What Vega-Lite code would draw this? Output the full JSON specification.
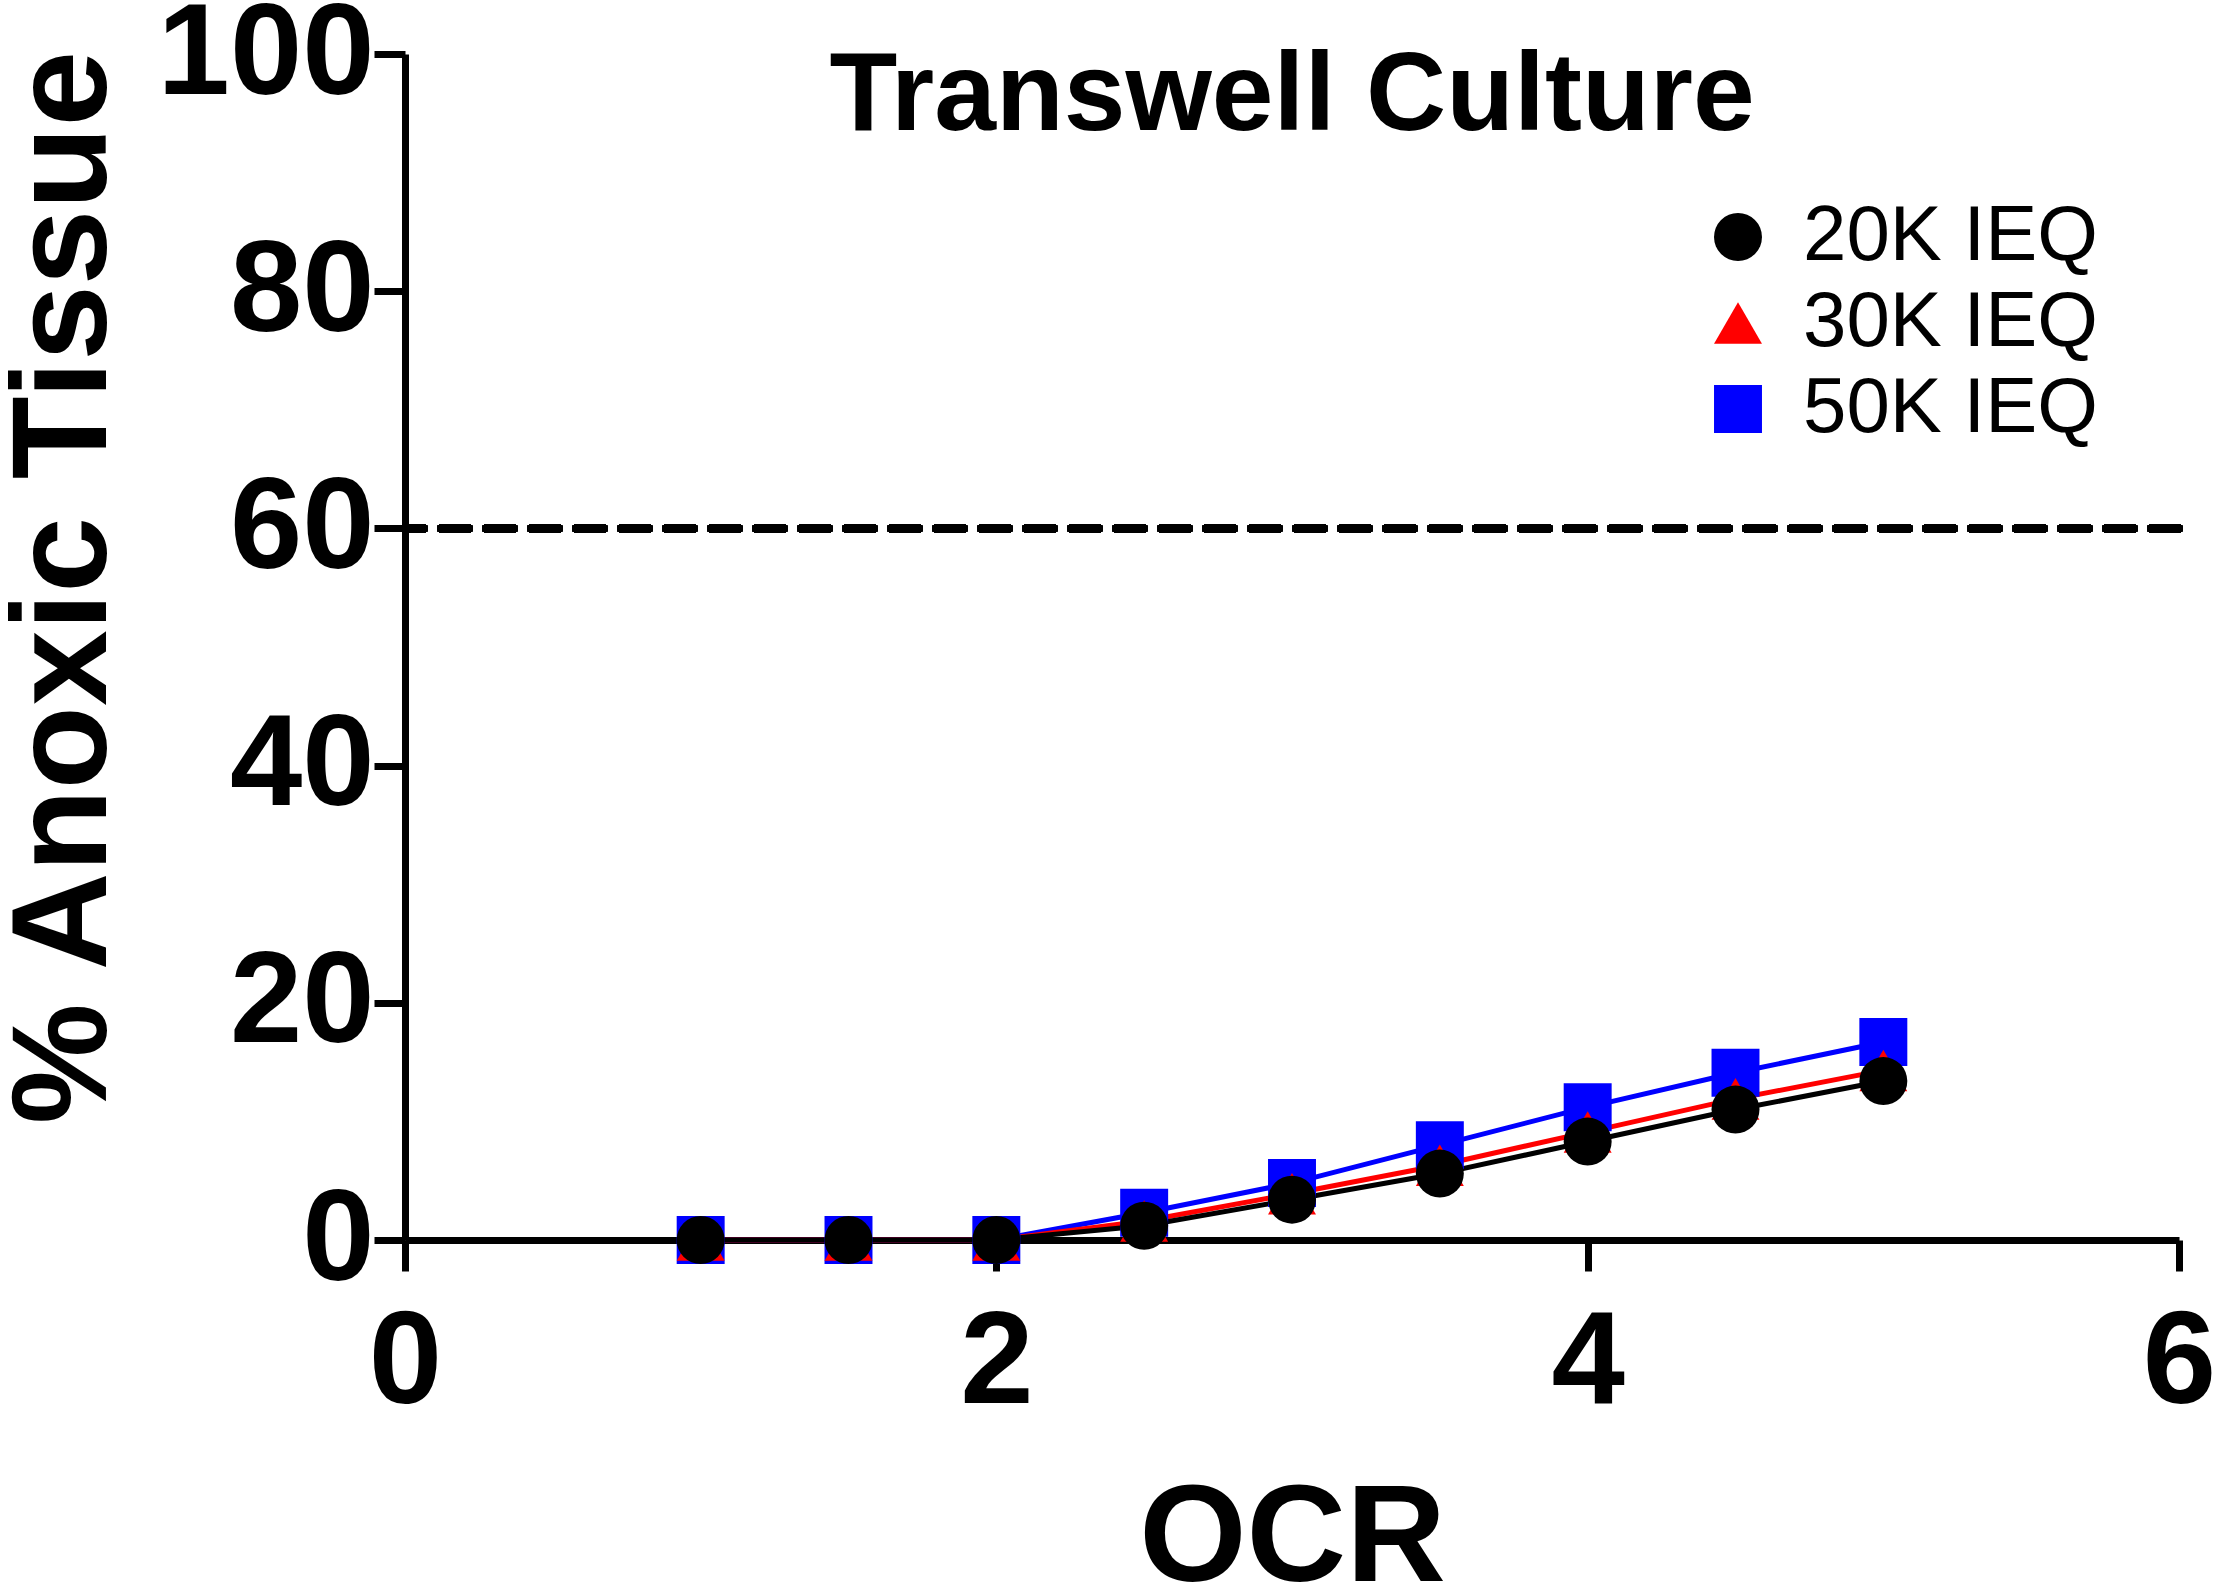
{
  "$schema": "https://vega.github.io/schema/vega-lite/v6.json",
  "autosize": "none",
  "width": 1774,
  "height": 1186,
  "padding": {"left": 405, "top": 54, "right": 38, "bottom": 349},
  "background": "white",
  "title": {
    "text": "Transwell Culture",
    "font": "Liberation Sans",
    "fontSize": 111,
    "fontWeight": "bold",
    "color": "black",
    "anchor": "middle",
    "frame": "group",
    "baseline": "alphabetic",
    "offset": -252,
    "limit": 2000
  },
  "data": {
    "values": [
      {"ocr": 1.0, "anoxic": 0.0, "series": "50K IEQ"},
      {"ocr": 1.5, "anoxic": 0.0, "series": "50K IEQ"},
      {"ocr": 2.0, "anoxic": 0.0, "series": "50K IEQ"},
      {"ocr": 2.5, "anoxic": 2.3, "series": "50K IEQ"},
      {"ocr": 3.0, "anoxic": 4.8, "series": "50K IEQ"},
      {"ocr": 3.5, "anoxic": 8.0, "series": "50K IEQ"},
      {"ocr": 4.0, "anoxic": 11.2, "series": "50K IEQ"},
      {"ocr": 4.5, "anoxic": 14.1, "series": "50K IEQ"},
      {"ocr": 5.0, "anoxic": 16.7, "series": "50K IEQ"},
      {"ocr": 1.0, "anoxic": 0.0, "series": "30K IEQ"},
      {"ocr": 1.5, "anoxic": 0.0, "series": "30K IEQ"},
      {"ocr": 2.0, "anoxic": 0.0, "series": "30K IEQ"},
      {"ocr": 2.5, "anoxic": 1.6, "series": "30K IEQ"},
      {"ocr": 3.0, "anoxic": 3.9, "series": "30K IEQ"},
      {"ocr": 3.5, "anoxic": 6.3, "series": "30K IEQ"},
      {"ocr": 4.0, "anoxic": 9.1, "series": "30K IEQ"},
      {"ocr": 4.5, "anoxic": 11.9, "series": "30K IEQ"},
      {"ocr": 5.0, "anoxic": 14.3, "series": "30K IEQ"},
      {"ocr": 1.0, "anoxic": 0.0, "series": "20K IEQ"},
      {"ocr": 1.5, "anoxic": 0.0, "series": "20K IEQ"},
      {"ocr": 2.0, "anoxic": 0.0, "series": "20K IEQ"},
      {"ocr": 2.5, "anoxic": 1.2, "series": "20K IEQ"},
      {"ocr": 3.0, "anoxic": 3.4, "series": "20K IEQ"},
      {"ocr": 3.5, "anoxic": 5.6, "series": "20K IEQ"},
      {"ocr": 4.0, "anoxic": 8.3, "series": "20K IEQ"},
      {"ocr": 4.5, "anoxic": 11.0, "series": "20K IEQ"},
      {"ocr": 5.0, "anoxic": 13.4, "series": "20K IEQ"}
    ]
  },
  "encoding": {
    "x": {
      "field": "ocr",
      "type": "quantitative",
      "title": "OCR",
      "scale": {"domain": [0, 6], "nice": false, "zero": false},
      "axis": {
        "values": [0, 2, 4, 6],
        "grid": false,
        "labelFont": "Liberation Sans",
        "labelFontSize": 132,
        "labelFontWeight": "bold",
        "labelColor": "black",
        "labelBaseline": "alphabetic",
        "labelPadding": 131,
        "labelFlush": false,
        "labelOverlap": false,
        "labelLimit": 1000,
        "domainColor": "black",
        "domainWidth": 7,
        "tickColor": "black",
        "tickWidth": 7,
        "tickSize": 31,
        "titleFont": "Liberation Sans",
        "titleFontSize": 138,
        "titleFontWeight": "bold",
        "titleColor": "black",
        "titleBaseline": "alphabetic",
        "titleLimit": 2000,
        "titleY": 340
      }
    },
    "y": {
      "field": "anoxic",
      "type": "quantitative",
      "title": "% Anoxic Tissue",
      "scale": {"domain": [0, 100], "nice": false},
      "axis": {
        "values": [0, 20, 40, 60, 80, 100],
        "grid": false,
        "labelFont": "Liberation Sans",
        "labelFontSize": 130,
        "labelFontWeight": "bold",
        "labelColor": "black",
        "labelBaseline": "middle",
        "labelPadding": 0,
        "labelFlush": false,
        "labelOverlap": false,
        "labelLimit": 1000,
        "domainColor": "black",
        "domainWidth": 7,
        "tickColor": "black",
        "tickWidth": 7,
        "tickSize": 31,
        "titleFont": "Liberation Sans",
        "titleFontSize": 136,
        "titleFontWeight": "bold",
        "titleColor": "black",
        "titleAngle": 270,
        "titleBaseline": "alphabetic",
        "titleAlign": "center",
        "titleLimit": 2000,
        "titleX": -300,
        "titleY": 533
      }
    }
  },
  "layer": [
    {
      "mark": {"type": "rule", "color": "black", "strokeWidth": 8, "strokeDash": [28, 17], "strokeCap": "round"},
      "encoding": {"y": {"datum": 60}, "x": null}
    },
    {
      "mark": {"type": "line", "strokeWidth": 5},
      "encoding": {
        "color": {
          "field": "series",
          "type": "nominal",
          "title": null,
          "scale": {"domain": ["20K IEQ", "30K IEQ", "50K IEQ"], "range": ["#000000", "#ff0000", "#0000ff"]}
        }
      }
    },
    {
      "mark": {"type": "point", "filled": true, "size": 2300, "opacity": 1, "strokeWidth": 0},
      "encoding": {
        "color": {
          "field": "series",
          "type": "nominal",
          "title": null,
          "scale": {"domain": ["20K IEQ", "30K IEQ", "50K IEQ"], "range": ["#000000", "#ff0000", "#0000ff"]},
          "legend": {
            "orient": "none",
            "legendX": 1294,
            "legendY": 144,
            "symbolSize": 2300,
            "symbolStrokeWidth": 0,
            "symbolOpacity": 1,
            "labelFont": "Liberation Sans",
            "labelFontSize": 78,
            "labelColor": "black",
            "labelOffset": 26,
            "labelLimit": 1000,
            "rowPadding": 8,
            "padding": 0
          }
        },
        "shape": {
          "field": "series",
          "type": "nominal",
          "title": null,
          "scale": {"domain": ["20K IEQ", "30K IEQ", "50K IEQ"], "range": ["circle", "triangle-up", "square"]}
        }
      }
    }
  ],
  "config": {
    "view": {"stroke": null}
  }
}
